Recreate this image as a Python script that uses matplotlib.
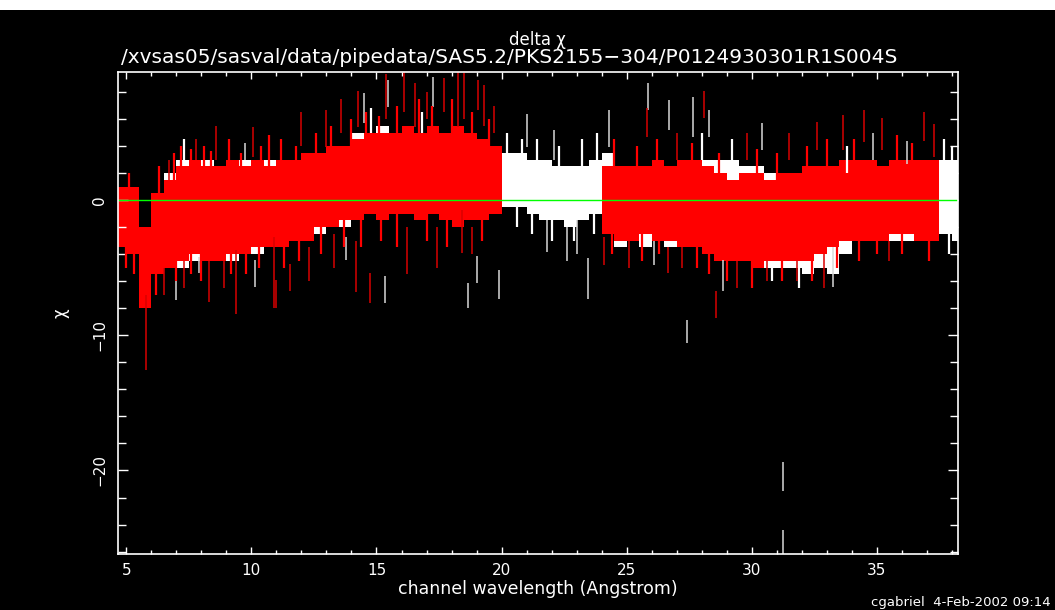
import numpy as np
import matplotlib
matplotlib.use("Agg")
import matplotlib.pyplot as plt
from matplotlib.patches import Rectangle

# ---- data (chi residuals, envelope per 0.5 A bin) ----
# red data set, first part (bins start at 4.5 A)
red1_start = np.arange(4.5, 20.0, 0.5)
red1_hi = [1.0, 1.0, -2.0, 0.5, 1.5, 2.5, 3.0, 2.5, 2.5, 3.0, 2.5, 3.0, 2.5, 3.0, 3.0, 3.5,
           3.5, 4.0, 4.0, 4.5, 5.0, 5.0, 5.0, 5.5, 5.0, 5.5, 5.0, 5.5, 5.0, 4.5, 4.0]
red1_lo = [-3.5, -4.0, -8.0, -5.5, -5.0, -4.5, -4.0, -4.5, -4.5, -4.0, -4.0, -3.5, -3.5, -3.5, -3.0, -3.0,
           -2.0, -2.0, -1.5, -1.5, -1.0, -1.5, -1.0, -1.0, -1.5, -1.0, -1.5, -2.0, -1.5, -1.5, -1.0]

# red data set, second part (bins start at 24.0 A)
red2_start = np.arange(24.0, 37.5, 0.5)
red2_hi = [2.5, 2.5, 2.5, 2.5, 3.0, 2.5, 3.0, 3.0, 2.5, 2.0, 1.5, 2.0, 2.0, 1.5,
           2.0, 2.0, 2.5, 2.5, 2.5, 3.0, 3.0, 3.0, 2.5, 3.0, 3.0, 3.0, 3.0]
red2_lo = [-2.5, -3.0, -3.0, -2.5, -3.0, -3.0, -3.5, -3.5, -4.0, -4.5, -4.5, -4.5, -5.0, -4.5,
           -4.5, -4.5, -4.5, -4.0, -3.5, -3.0, -3.0, -3.0, -3.0, -2.5, -2.5, -3.0, -3.0]

# white data set (bins start at 6.5 A)
white_start = np.arange(6.5, 38.5, 0.5)
white_hi = [2.0, 3.0, 2.5, 3.0, 2.5, 3.0, 3.0, 3.0, 3.0, 2.5, 3.0, 3.5, 3.5, 4.0, 4.0, 5.0,
            5.0, 5.5, 5.0, 5.0, 5.0, 5.0, 5.0, 5.0, 4.5, 4.5, 4.0, 3.5, 3.5, 3.0, 3.0, 2.5,
            2.5, 2.5, 3.0, 3.5, 2.5, 2.5, 2.5, 2.5, 2.0, 2.5, 3.0, 3.0, 3.0, 3.0, 2.5, 2.5,
            2.0, 2.0, 2.0, 2.0, 2.0, 1.5, 2.0, 3.0, 3.0, 2.5, 3.0, 3.0, 2.5, 3.0, 3.0, 3.0]
white_lo = [-4.0, -5.0, -4.5, -4.0, -4.0, -4.5, -4.0, -4.0, -3.5, -3.0, -3.0, -2.5, -2.5, -2.0, -2.0, -1.0,
            -1.0, -1.0, -1.0, -1.0, -1.0, -1.0, -1.0, -1.5, -1.0, -1.0, -1.0, -0.5, -0.5, -1.0, -1.5, -1.5,
            -2.0, -1.5, -1.0, -1.0, -3.5, -3.0, -3.5, -3.0, -3.5, -3.0, -3.0, -3.5, -4.5, -4.0, -4.5, -4.5,
            -5.0, -5.0, -5.0, -5.5, -5.0, -5.5, -4.0, -3.0, -3.0, -2.5, -3.0, -3.0, -3.0, -3.0, -2.5, -3.0]

# ragged error bars along the edge of the bulk
red_edge_x = [5.1, 6.3, 6.9, 7.2, 7.6, 8.1, 8.4, 9.1, 9.6, 10.4, 10.7, 11.2, 11.8, 12.6, 13.2, 14.0,
              14.6, 15.1, 15.8, 16.7, 17.2, 18.0, 18.8, 19.5, 24.5, 25.4, 26.2, 27.6, 28.7, 30.2,
              31.0, 32.2, 33.0, 34.1, 35.8, 36.4,
              5.0, 5.3, 6.2, 7.0, 7.6, 8.0, 9.2, 9.8, 10.3, 11.3, 11.9, 12.8, 13.7, 14.4, 15.2,
              15.8, 17.0, 17.8, 19.2, 24.4, 25.6, 26.3, 27.8, 28.3, 29.0, 30.0, 31.2, 32.4, 33.4,
              34.3, 35.0, 36.0, 37.1]
red_edge_lo = [0.5, 0.0, 1.5, 2.0, 2.5, 2.0, 2.0, 2.5, 2.0, 2.5, 2.0, 2.5, 2.5, 3.0, 3.5, 4.0,
               4.5, 4.5, 4.5, 5.0, 5.0, 5.0, 4.5, 4.0, 2.0, 2.0, 2.5, 2.5, 1.5, 1.5,
               1.5, 2.0, 2.0, 2.5, 2.5, 2.5,
               -5.0, -5.5, -7.0, -6.0, -5.5, -6.0, -5.5, -5.5, -5.0, -5.0, -4.5, -4.0, -3.5, -3.5, -3.0,
               -3.5, -3.0, -3.5, -3.0, -4.0, -4.5, -4.0, -5.0, -5.5, -6.0, -6.5, -6.0, -6.0, -5.0,
               -4.5, -4.0, -4.0, -4.5]
red_edge_hi = [2.0, 2.5, 3.5, 4.0, 3.8, 4.0, 3.6, 4.5, 3.5, 4.0, 4.8, 4.5, 4.0, 5.0, 5.5, 6.0,
               6.5, 6.2, 7.0, 7.5, 7.0, 7.5, 6.5, 6.0, 4.5, 4.0, 4.5, 4.2, 3.5, 3.8,
               3.5, 4.0, 4.5, 4.5, 4.8, 4.2,
               -3.0, -3.5, -5.0, -4.0, -3.5, -4.0, -3.5, -3.5, -3.0, -3.0, -2.5, -2.0, -1.5, -1.0, -1.0,
               -1.0, -1.0, -1.5, -1.0, -2.0, -2.5, -2.5, -3.0, -3.5, -4.0, -4.5, -4.0, -4.0, -3.0,
               -2.5, -2.5, -2.0, -2.5]

white_edge_x = [20.2, 20.8, 21.4, 22.3, 23.2, 23.8, 20.6, 21.2, 22.0, 22.9, 23.7, 37.7, 38.0, 37.9,
                28.0, 29.2, 33.8, 31.9, 30.8, 7.3, 14.8, 16.8]
white_edge_lo = [3.0, 3.0, 2.5, 2.5, 2.5, 2.5, -2.0, -2.5, -3.0, -3.0, -2.5, 2.5, 2.0, -4.0,
                 3.0, 2.5, 2.0, -6.5, -6.0, 3.0, 5.0, 5.0]
white_edge_hi = [5.0, 4.5, 4.5, 4.0, 4.5, 5.0, -0.5, -1.0, -1.5, -1.5, -1.0, 4.5, 4.0, -2.0,
                 5.0, 4.5, 4.0, -5.0, -4.5, 4.5, 6.8, 6.5]

# isolated error bars sticking far out of the bulk
white_spike_x = [18.66, 19.9, 19.0, 23.45, 25.85, 26.7, 27.65, 27.4, 17.26, 21.0, 22.1, 24.3,
                 15.46, 15.35, 14.5, 7.0, 7.9, 9.75, 10.15, 13.8, 30.4, 28.85, 33.25, 34.85,
                 36.2, 31.26, 31.26, 28.3, 22.6, 21.8, 23.0, 26.1]
white_spike_lo = [-8.0, -7.3, -6.1, -7.3, 6.7, 5.2, 4.7, -10.6, 6.9, 3.9, 3.0, 3.9,
                  6.9, -7.6, 5.7, -7.4, -5.4, 3.0, -6.4, -4.4, 3.7, -6.7, -6.4, 3.0,
                  2.7, -21.5, -26.5, 4.7, -4.5, -3.8, -4.0, -4.8]
white_spike_hi = [-6.1, -5.2, -4.1, -4.3, 8.7, 7.4, 7.6, -8.9, 9.1, 6.4, 5.2, 6.7,
                  8.9, -5.6, 7.9, -5.2, -4.2, 4.2, -4.4, -2.7, 5.7, -4.4, -3.5, 5.0,
                  4.4, -19.4, -24.4, 6.7, -2.0, -1.5, -1.5, -3.0]

red_spike_x = [5.8, 10.08, 13.0, 14.26, 16.55, 14.75, 10.9, 9.4, 11.0, 11.55, 18.26, 19.06,
               18.4, 24.1, 25.8, 26.65, 28.1, 28.55, 32.6, 33.65, 34.5, 35.2, 36.9, 37.3,
               15.4, 16.1, 17.0, 17.7, 18.5, 19.3, 19.7, 13.6, 12.0, 8.6, 7.8, 6.7,
               6.5, 7.3, 8.3, 8.9, 12.3, 13.3, 14.2, 16.2, 17.4, 18.8, 25.1, 27.2,
               29.4, 30.6, 31.8, 32.9, 35.5, 29.8, 31.5, 27.0]
red_spike_lo = [-12.6, 3.2, 3.9, 5.4, 5.4, -7.6, -8.0, -8.4, -8.0, -6.7, 5.4, 6.7,
                -3.9, -4.8, 4.7, -5.4, 6.1, -8.7, 3.7, 3.7, 4.3, 3.7, 4.4, 3.2,
                6.0, 6.5, 6.0, 6.5, 6.0, 5.5, 5.0, 5.0, 4.0, 3.0, 3.0, 1.5,
                -7.0, -6.5, -7.5, -6.5, -6.0, -5.0, -6.8, -5.5, -5.0, -4.0, -5.0, -5.0,
                -6.5, -6.0, -6.0, -6.5, -4.5, 3.0, 3.0, 3.0]
red_spike_hi = [-7.0, 5.4, 6.7, 8.1, 8.7, -5.4, -2.7, -3.7, -5.9, -4.7, 9.5, 8.9,
                -0.7, -2.7, 6.8, -3.5, 8.1, -6.7, 5.8, 6.3, 6.7, 6.1, 6.5, 5.6,
                9.3, 9.5, 8.0, 9.0, 9.4, 8.5, 7.0, 7.5, 6.5, 5.5, 4.5, 3.0,
                -5.0, -4.5, -4.5, -4.5, -3.5, -2.5, -3.0, -2.0, -2.0, -2.0, -3.0, -3.5,
                -4.5, -4.5, -4.5, -4.0, -3.0, 5.0, 5.0, 5.0]

x_ticks = [5, 10, 15, 20, 25, 30, 35]
y_ticks = [0, -10, -20]

# ---- figure ----
fig = plt.figure(figsize=(10.55, 6.10), dpi=100, facecolor="black")
fig.patches.append(Rectangle((0, 0.984), 1, 0.016, transform=fig.transFigure,
                             facecolor="white", edgecolor="none"))
ax = fig.add_axes([0.1121, 0.0913, 0.7957, 0.7907])
ax.set_facecolor("black")

ax.bar(white_start, np.array(white_hi) - np.array(white_lo), bottom=white_lo, width=0.5,
       align="edge", color="white", linewidth=0)
ax.vlines(white_edge_x, white_edge_lo, white_edge_hi, colors="white", linewidth=1.6)
ax.vlines(white_spike_x, white_spike_lo, white_spike_hi, colors="#d8d8d8", linewidth=1.1)
ax.bar(red1_start, np.array(red1_hi) - np.array(red1_lo), bottom=red1_lo, width=0.5,
       align="edge", color="#ff0000", linewidth=0)
ax.bar(red2_start, np.array(red2_hi) - np.array(red2_lo), bottom=red2_lo, width=0.5,
       align="edge", color="#ff0000", linewidth=0)
ax.vlines(red_edge_x, red_edge_lo, red_edge_hi, colors="#ff0000", linewidth=1.6)
ax.vlines(red_spike_x, red_spike_lo, red_spike_hi, colors="#d80000", linewidth=1.1)
ax.axhline(0, color="#00ff00", linewidth=1.0)

ax.set_xlim(4.68, 38.23)
ax.set_ylim(-26.2, 9.48)
ax.set_xticks(x_ticks)
ax.set_xticks(np.arange(5, 39, 1), minor=True)
ax.set_yticks(y_ticks)
ax.set_yticks(np.arange(-26, 10, 2), minor=True)
ax.set_yticklabels([str(v).replace("-", "\u2212") for v in y_ticks], rotation=90, va="center")

for s in ax.spines.values():
    s.set_color("white")
    s.set_linewidth(1.2)
ax.tick_params(axis="both", which="both", direction="in", colors="white",
               top=True, right=True, labelsize=11, width=1.0)
ax.tick_params(axis="x", which="major", length=5, pad=6)
ax.tick_params(axis="x", which="minor", length=3)
ax.tick_params(axis="y", which="major", length=7, pad=8)
ax.tick_params(axis="y", which="minor", length=5.5)

ax.set_xlabel("channel wavelength (Angstrom)", color="white", fontsize=12.5, labelpad=2)
ax.set_ylabel("\u03c7", color="white", fontsize=12, labelpad=16)

fig.text(0.509, 0.934, "delta \u03c7", color="white", fontsize=12, ha="center", va="center")
fig.text(0.483, 0.906, "/xvsas05/sasval/data/pipedata/SAS5.2/PKS2155\u2212304/P0124930301R1S004S",
         color="white", fontsize=14.5, ha="center", va="center")
fig.text(0.826, 0.012, "cgabriel  4-Feb-2002 09:14", color="white", fontsize=9.5,
         ha="left", va="center")

fig.savefig("out.png", dpi=100, facecolor="black")
